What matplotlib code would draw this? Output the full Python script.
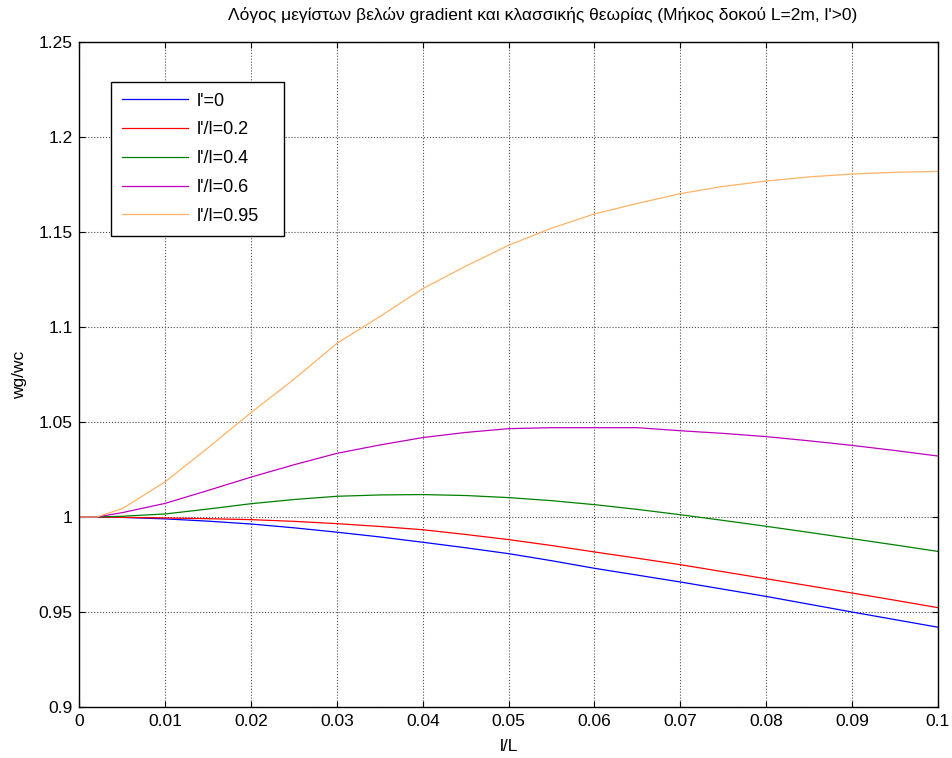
import numpy as np
import matplotlib
matplotlib.use('Agg')
import matplotlib.pyplot as plt

plt.rcParams['font.family'] = ['Liberation Sans', 'DejaVu Sans']

# l/L values where the curves were read
x = [0.0, 0.002, 0.005, 0.01, 0.015, 0.02, 0.025, 0.03, 0.035, 0.04, 0.045,
     0.05, 0.055, 0.06, 0.065, 0.07, 0.075, 0.08, 0.085, 0.09, 0.095, 0.1]

# wg/wc for each l'/l ratio
w_0 = [1.0, 1.0, 0.9998, 0.999, 0.9978, 0.9963, 0.9943, 0.992, 0.9895, 0.9867, 0.9838,
       0.9807, 0.977, 0.973, 0.9694, 0.9658, 0.962, 0.9582, 0.9541, 0.950, 0.946, 0.942]
w_02 = [1.0, 1.0, 0.9998, 0.9995, 0.9991, 0.9986, 0.9977, 0.9965, 0.995, 0.9933, 0.9908,
        0.9881, 0.985, 0.9816, 0.9783, 0.9749, 0.9712, 0.9675, 0.9638, 0.960, 0.9562, 0.9523]
w_04 = [1.0, 1.0, 1.0004, 1.0016, 1.0042, 1.007, 1.0092, 1.0109, 1.0116, 1.0118, 1.0113,
        1.0102, 1.0086, 1.0065, 1.004, 1.0012, 0.9982, 0.9951, 0.9919, 0.9886, 0.9853, 0.9819]
w_06 = [1.0, 1.0, 1.0023, 1.0072, 1.014, 1.021, 1.0275, 1.0335, 1.0379, 1.0418, 1.0445,
        1.0465, 1.047, 1.047, 1.047, 1.0454, 1.044, 1.0423, 1.0401, 1.0377, 1.035, 1.0321]
w_095 = [1.0, 1.0, 1.0044, 1.0186, 1.0365, 1.055, 1.0725, 1.0914, 1.1055, 1.1202, 1.132,
         1.143, 1.152, 1.1595, 1.165, 1.1702, 1.174, 1.1768, 1.179, 1.1805, 1.1814, 1.1819]

series = [w_0, w_02, w_04, w_06, w_095]
labels = ["l'=0", "l'/l=0.2", "l'/l=0.4", "l'/l=0.6", "l'/l=0.95"]
colors = ['#0000ff', '#ff0000', '#008000', '#bf00bf', '#ffb366']

fig = plt.figure(figsize=(9.52, 7.58), dpi=100)
ax = fig.add_axes([0.0835, 0.0673, 0.9015, 0.8773])

for ys, lab, c in zip(series, labels, colors):
    ax.plot(x, ys, color=c, lw=0.9, label=lab)

ax.set_xlim(0, 0.1)
ax.set_ylim(0.9, 1.25)
ax.set_xticks(np.arange(0, 0.101, 0.01))
ax.set_xticklabels(['0', '0.01', '0.02', '0.03', '0.04', '0.05', '0.06', '0.07', '0.08', '0.09', '0.1'])
ax.set_yticks(np.arange(0.9, 1.2501, 0.05))
ax.set_yticklabels(['0.9', '0.95', '1', '1.05', '1.1', '1.15', '1.2', '1.25'])
ax.tick_params(direction='in', top=True, right=True, labelsize=12.5, length=4, width=0.8, pad=5)
ax.grid(True, ls=':', color='0.3', lw=0.8)
for s in ax.spines.values():
    s.set_linewidth(1.0)

# title sits a bit right of the axes centre, as in the original
fig.text(0.5704, 1 - 15 / 758, "Λόγος μεγίστων βελών gradient και κλασσικής θεωρίας (Μήκος δοκού L=2m, l'>0)",
         fontsize=12.5, ha='center', va='center')
ax.set_xlabel('l/L', fontsize=12.5, labelpad=7)
ax.set_ylabel('wg/wc', fontsize=12.5, labelpad=8)

leg = ax.legend(loc='upper left', bbox_to_anchor=(0.0367, 0.70, 0.2016, 0.24), mode='expand',
                fontsize=13, handlelength=3.65, handletextpad=0.5, labelspacing=0.65,
                borderpad=0.6, fancybox=False, framealpha=1, edgecolor='k', borderaxespad=0)
leg.get_frame().set_linewidth(1.0)

fig.savefig('out.png', dpi=100)
